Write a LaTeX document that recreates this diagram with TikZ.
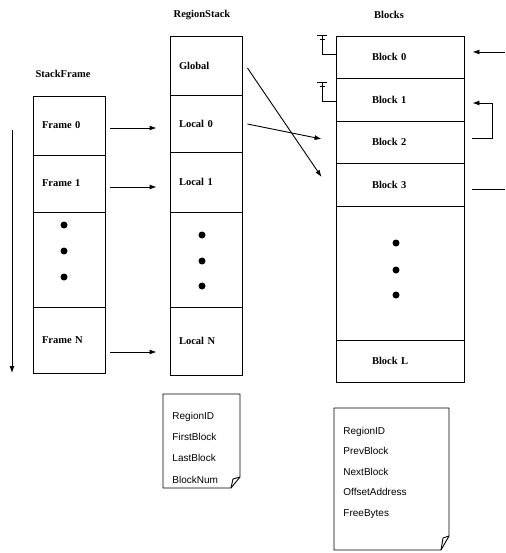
\documentclass[tikz,border=0pt]{standalone}
\usepackage{fontspec}
\setmainfont{Liberation Serif}
\setsansfont{Liberation Sans}
\usetikzlibrary{arrows, arrows.meta, calc}

\begin{document}
\begin{tikzpicture}[x=1pt, y=-1pt, line width=0.9pt, >={Latex[length=7pt, width=5pt]},
    font=\fontsize{10.5}{12}\selectfont\bfseries,
    cell/.style={draw, rectangle, inner ysep=0, align=left},
    sfcell/.style={cell, inner xsep=9, text width=54},
    rscell/.style={cell, inner xsep=9, text width=54},
    blcell/.style={cell, inner xsep=36, text width=56},
    notetext/.style={anchor=north west, inner sep=0, align=left,
        font=\sffamily\mdseries\fontsize{10}{21.3}\selectfont}]

\useasboundingbox (0,0) rectangle (505,553);

\node (sfhead) at (63,74) {StackFrame};
\node (rshead) at (202,15) {RegionStack};
\node (blhead) at (389,15) {Blocks};

\foreach \n/\y/\h/\t in {f0/125.5/59/Frame 0, f1/183.5/57/Frame 1, fd/259.5/95/{}, fN/340/66/Frame N} {
    \node (\n) [sfcell, minimum height=\h] at (69,\y) {\t};
}

\foreach \n/\y/\h/\t in {glob/65.5/59/Global, l0/123.5/57/Local 0, l1/182/60/Local 1, ld/259.5/95/{}, lN/341/68/Local N} {
    \node (\n) [rscell, minimum height=\h] at (206,\y) {\t};
}

\foreach \n/\y/\h/\t in {b0/57/42/Block 0, b1/99.5/43/Block 1, b2/142/42/Block 2, b3/184.5/43/Block 3, bd/273/134/{}, bL/361/42/Block L} {
    \node (\n) [blcell, minimum height=\h] at (400,\y) {\t};
}

\foreach \y in {225,251,277} {
    \fill (64,\y) circle (3.5);
}
\foreach \y in {235,261,286} {
    \fill (202,\y) circle (3.5);
}
\foreach \y in {243,270,295} {
    \fill (396,\y) circle (3.5);
}

\coordinate (ttop) at (12,130);
\coordinate (tbot) at (12,373);
\draw[->] (ttop) -- (tbot);

\foreach \a/\b/\d in {f0/l0/2.5, f1/l1/3.5, fN/lN/12} {
    \draw[->, shorten <=5pt, shorten >=13pt] ($(\a.east)+(0,\d)$) -- ($(\a.east -| \b.west)+(0,\d)$);
}

\draw[->] ($(glob.east)+(5,2.5)$) -- ($(b3.west)+(-14,-7.5)$);
\draw[->] ($(l0.east)+(5,0.5)$) -- ($(b2.west)+(-14,-3)$);

\foreach \b/\y/\d in {b0/35/-3, b1/82/1.5} {
    \draw (317,\y) -- (327,\y);
    \draw (319.5,\y+4) -- (324.5,\y+4);
    \draw (322,\y) |- ($(\b.west)+(0,\d)$);
}

\coordinate (in0) at (505,52);
\coordinate (out3) at (505,189);
\draw[->] (in0) -- ($(b0.east)+(8,-5)$);
\draw[->] ($(b2.east)+(8,-4)$) -- ++(20,0) |- ($(b1.east)+(8,3.5)$);
\draw ($(b3.east)+(8,4.5)$) -- (out3);

\node (rsnote) [notetext] at (172,411.5) {RegionID\\FirstBlock\\LastBlock\\BlockNum};
\draw (163,394) -- (240,394) -- (240,477) -- (231,488) -- (163,488) -- cycle;
\draw (231,488) -- (233,479) -- (240,477);

\node (blnote) [notetext, font=\sffamily\mdseries\fontsize{10}{20.5}\selectfont] at (343,426.5) {RegionID\\PrevBlock\\NextBlock\\OffsetAddress\\FreeBytes};
\draw (334,408) -- (449,408) -- (449,536) -- (441,550) -- (334,550) -- cycle;
\draw (441,550) -- (443,538) -- (449,536);
\end{tikzpicture}
\end{document}
